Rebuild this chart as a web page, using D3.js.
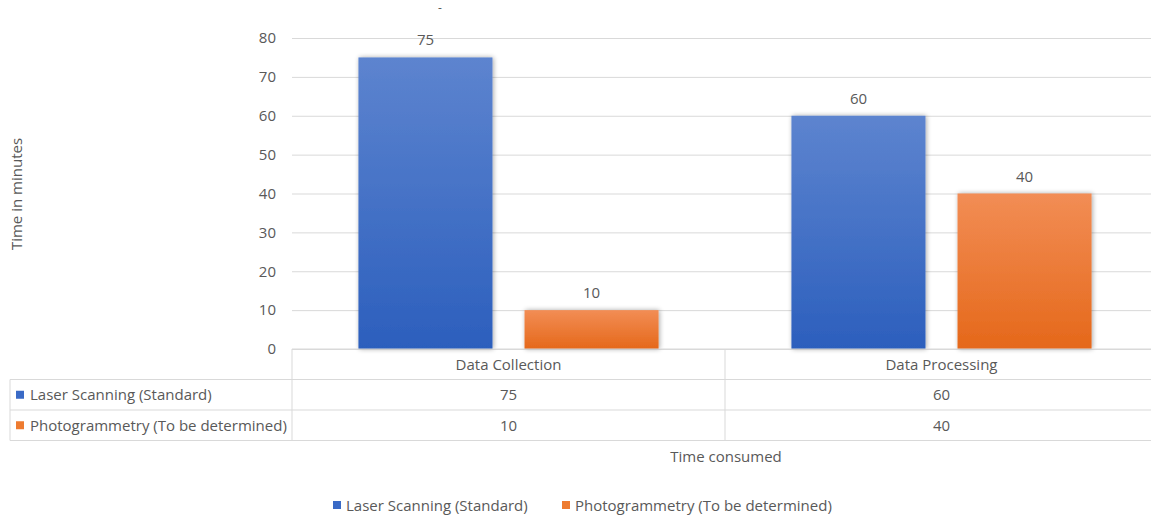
<!DOCTYPE html>
<html><head><meta charset="utf-8">
<script src="https://cdn.jsdelivr.net/npm/d3@7"></script>
<style>
html,body{margin:0;padding:0;background:#fff;}
svg text{font-family:"Open Sans","Noto Sans",sans-serif;fill:#595959;}
</style></head>
<body><svg id="c" width="1151" height="516"></svg>
<script>
const categories = ["Data Collection", "Data Processing"];
const seriesNames = ["Laser Scanning (Standard)", "Photogrammetry (To be determined)"];
const laserValues = [75, 60];
const photoValues = [10, 40];
const yTicks = [0, 10, 20, 30, 40, 50, 60, 70, 80];
const yLabel = "Time in minutes";
const xLabel = "Time consumed";

const series = [
  {name: seriesNames[0], values: laserValues, top: "#5d84cf", bottom: "#2c5fbd", sw: "#3a6ac6"},
  {name: seriesNames[1], values: photoValues, top: "#f28d55", bottom: "#e5681a", sw: "#ee7b30"}
];

const svg = d3.select("#c");
const W = 1151;
const FS = "15px";
const plotL = 292, plotR = 1151, plotT = 38, plotB = 349;
const rowH = 30.5;
const tableL = 10;

const x0 = d3.scaleBand().domain(categories).range([plotL, plotL + 866]).paddingInner(0).paddingOuter(0);
const x1 = d3.scaleBand().domain(seriesNames).range([0, x0.bandwidth()]).paddingInner(0.193).paddingOuter(0.40);
const y = d3.scaleLinear().domain([0, 80]).range([plotB, plotT]);

const defs = svg.append("defs");
series.forEach((s, i) => {
  const g = defs.append("linearGradient").attr("id", "g" + i).attr("x1", 0).attr("y1", 0).attr("x2", 0).attr("y2", 1);
  g.append("stop").attr("offset", "0%").attr("stop-color", s.top);
  g.append("stop").attr("offset", "100%").attr("stop-color", s.bottom);
});
const f = defs.append("filter").attr("id", "sh").attr("x", "-20%").attr("y", "-20%").attr("width", "140%").attr("height", "140%");
f.append("feGaussianBlur").attr("in", "SourceAlpha").attr("stdDeviation", 2.5).attr("result", "b");
f.append("feOffset").attr("in", "b").attr("dx", 1).attr("dy", 0).attr("result", "o");
f.append("feComponentTransfer").attr("in", "o").attr("result", "o2").append("feFuncA").attr("type", "linear").attr("slope", 0.35);
const m = f.append("feMerge");
m.append("feMergeNode").attr("in", "o2");
m.append("feMergeNode").attr("in", "SourceGraphic");

// gridlines
const yAxis = d3.axisLeft(y).tickValues(yTicks).tickSize(-(plotR - plotL)).tickPadding(16);
const ga = svg.append("g").attr("transform", `translate(${plotL},0)`).call(yAxis);
ga.select(".domain").remove();
ga.selectAll(".tick line").attr("stroke", "#d9d9d9").attr("stroke-width", 1);
ga.selectAll(".tick text").style("font-size", FS).attr("fill", "#595959");

// bars
series.forEach((s, i) => {
  svg.append("g").selectAll("rect").data(categories).join("rect")
    .attr("x", c => x0(c) + x1(s.name))
    .attr("y", (c, j) => y(s.values[j]))
    .attr("width", x1.bandwidth())
    .attr("height", (c, j) => plotB - y(s.values[j]))
    .attr("fill", `url(#g${i})`)
    .attr("filter", "url(#sh)");
  svg.append("g").selectAll("text").data(categories).join("text")
    .attr("x", c => x0(c) + x1(s.name) + x1.bandwidth() / 2)
    .attr("y", (c, j) => y(s.values[j]) - 12)
    .attr("text-anchor", "middle")
    .style("font-size", FS)
    .text((c, j) => s.values[j]);
});

// data table
const tg = svg.append("g");
const lineC = "#d9d9d9";
const r0 = plotB, r1 = plotB + rowH, r2 = plotB + 2 * rowH, r3 = plotB + 3 * rowH;
function hl(xa, xb, yy) { tg.append("line").attr("x1", xa).attr("x2", xb).attr("y1", yy).attr("y2", yy).attr("stroke", lineC); }
function vl(xx, ya, yb) { tg.append("line").attr("x1", xx).attr("x2", xx).attr("y1", ya).attr("y2", yb).attr("stroke", lineC); }
hl(plotL, W, r0);
hl(tableL, W, r1); hl(tableL, W, r2); hl(tableL, W, r3);
vl(tableL, r1, r3);
vl(plotL, r0, r3);
categories.forEach((c, j) => { if (j > 0) vl(x0(c), r0, r3); });

tg.selectAll("text.cat").data(categories).join("text")
  .attr("x", c => x0(c) + x0.bandwidth() / 2).attr("y", r0 + rowH / 2 + 6)
  .attr("text-anchor", "middle").style("font-size", FS).text(c => c);
series.forEach((s, i) => {
  const ry = plotB + (i + 1) * rowH;
  tg.append("rect").attr("x", tableL + 6).attr("y", ry + rowH / 2 - 4).attr("width", 8).attr("height", 8).attr("fill", s.sw);
  tg.append("text").attr("x", tableL + 20).attr("y", ry + rowH / 2 + 5.5).style("font-size", FS).text(s.name);
  tg.selectAll(null).data(categories).join("text")
    .attr("x", c => x0(c) + x0.bandwidth() / 2).attr("y", ry + rowH / 2 + 5.5)
    .attr("text-anchor", "middle").style("font-size", FS).text((c, j) => s.values[j]);
});

// axis titles
svg.append("text").attr("x", 726).attr("y", 462).attr("text-anchor", "middle").style("font-size", FS).text(xLabel);
svg.append("text").attr("transform", `translate(22,194) rotate(-90)`).attr("text-anchor", "middle").style("font-size", FS).text(yLabel);
svg.append("text").attr("x", 440).attr("y", 12).attr("text-anchor", "middle").style("font-size", "12px").attr("fill", "#333").text("-");

// legend
const lg = svg.append("g");
const legX = [333, 562];
series.forEach((s, i) => {
  lg.append("rect").attr("x", legX[i]).attr("y", 501).attr("width", 8).attr("height", 8).attr("fill", s.sw);
  lg.append("text").attr("x", legX[i] + 13).attr("y", 511).style("font-size", FS).text(s.name);
});
</script></body></html>
